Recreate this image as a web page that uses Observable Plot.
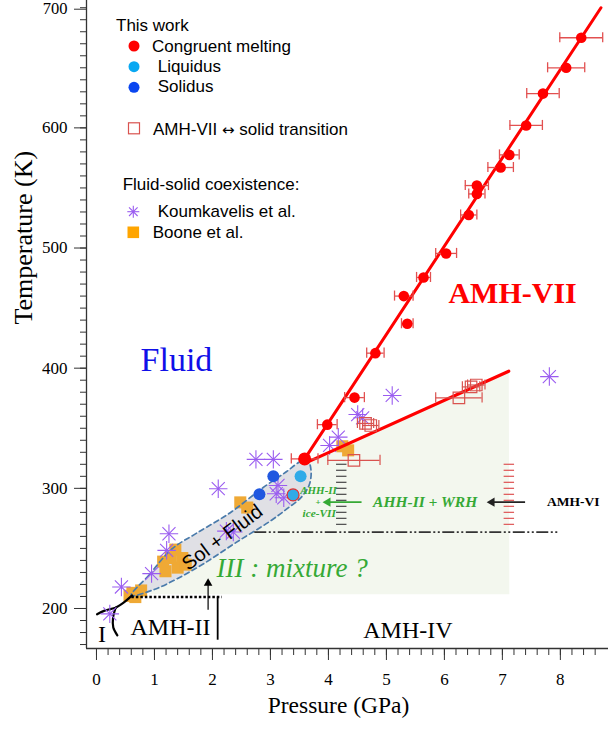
<!DOCTYPE html>
<html><head><meta charset="utf-8">
<script src="https://cdn.jsdelivr.net/npm/d3@7"></script>
<script src="https://cdn.jsdelivr.net/npm/@observablehq/plot@0.6"></script>
<style>
body{margin:0;background:#fff;}
#wrap{position:relative;width:608px;height:731px;}
</style></head><body><div id="wrap"></div>
<script>
// ---------- data (P in GPa, T in K) ----------
const congruentMelting = [
  {P:8.36,T:675,err:0.37},{P:8.10,T:650,err:0.32},{P:7.70,T:628.5,err:0.28},
  {P:7.41,T:602,err:0.28},{P:7.12,T:577.5,err:0.17},{P:6.97,T:567,err:0.22},
  {P:6.56,T:552,err:0.20},{P:6.56,T:545,err:0.14},{P:6.42,T:527.5,err:0.14},
  {P:6.03,T:495.5,err:0.18},{P:5.64,T:475.5,err:0.12},{P:5.30,T:460,err:0.16},
  {P:5.36,T:437,err:0.10},{P:4.81,T:412.5,err:0.15},{P:4.45,T:375.5,err:0.17},
  {P:3.98,T:353,err:0.17},{P:3.59,T:324.5,err:0.23}
];
const liquidus = [{P:3.52,T:310},{P:3.39,T:294.5}];
const solidus = [{P:3.05,T:310},{P:2.81,T:295}];
const redRing = [{P:3.39,T:294.5}];
const solidTransition = [
  {P:4.44,T:323.3,err:0.45},{P:4.64,T:354,err:0.14},{P:4.73,T:352.3,err:0.14},
  {P:6.25,T:375.3,err:0.40},{P:6.46,T:384.4,err:0.15},{P:6.55,T:386,err:0.15}
];
const koumkavelis = [
  {P:7.81,T:393},{P:5.10,T:377.3},{P:4.505,T:361.4},{P:4.59,T:358.7},{P:4.17,T:342.6},
  {P:4.02,T:335.7},{P:2.75,T:324.1},{P:3.05,T:324.1},{P:2.10,T:299.7},{P:3.13,T:302.4},
  {P:3.10,T:295.5},{P:3.23,T:292.1},{P:1.25,T:262.2},{P:1.21,T:248.4},{P:0.95,T:229},
  {P:0.43,T:217.9},{P:0.23,T:195.5},{P:2.24,T:264.4},{P:2.36,T:263.6}
];
const boone = [
  {P:0.62,T:213},{P:0.77,T:215},{P:0.67,T:209.5},{P:0.57,T:210.5},
  {P:1.19,T:231},{P:1.40,T:234},{P:1.28,T:242},{P:1.48,T:242},{P:1.36,T:249},{P:1.15,T:239},{P:1.54,T:236.5},
  {P:2.48,T:288.3},{P:2.60,T:284},
  {P:4.24,T:335},{P:4.34,T:331.6}
];
const meltingLine = [{P:3.59,T:324.5},{P:8.70,T:700}];
const transitionLine = [{P:3.60,T:321},{P:7.11,T:397.5}];
const solFluidOutline = [
  {P:0.60,T:210.9},{P:0.90,T:227.5},{P:1.30,T:249.5},{P:1.72,T:262.5},{P:2.30,T:279.5},
  {P:2.87,T:300.5},{P:3.28,T:314},{P:3.50,T:321.8},{P:3.64,T:323.5},{P:3.70,T:315},
  {P:3.67,T:303},{P:3.53,T:292.5},{P:3.30,T:283.5},{P:2.99,T:272.5},{P:2.41,T:255},
  {P:1.84,T:237},{P:1.38,T:224.5},{P:0.98,T:215.5}
];
const mixtureShade = [
  {P:3.64,T:321},{P:7.11,T:397.5},{P:7.12,T:211.8},{P:0.90,T:211.8},{P:0.98,T:215.5},
  {P:1.38,T:224.5},{P:1.84,T:237},{P:2.41,T:255},{P:2.99,T:272.5},{P:3.30,T:283.5},
  {P:3.53,T:292.5},{P:3.67,T:303},{P:3.70,T:315}
];
const phaseLeft = [{P:0.01,T:195.2},{P:0.13,T:198},{P:0.24,T:199.5},{P:0.33,T:200.6}];
const phaseLower = [{P:0.33,T:200.6},{P:0.285,T:192},{P:0.29,T:184.2},{P:0.36,T:177.6}];
const phaseUpper = [{P:0.33,T:200.6},{P:0.45,T:204.2},{P:0.615,T:210.9}];
const amhIIBoundary = [{P1:0.61,P2:2.17,T:209.6}];
const amhIIVertical = [{P:2.09,T1:173.6,T2:209.6}];
const upArrow = [{P:1.925,T1:198.5,T2:221}];
const dashDotLine = [{P1:2.73,P2:7.99,T:263.6}];
const ladderT = [270,275,280,285,290,295,300,305,310,315,320];
const ladderGrayP = 4.23, ladderRedP = 7.12;
const greenArrow = [{P1:4.58,P2:3.99,T:288.5}];
const blackArrow = [{P1:7.40,P2:6.82,T:288.5}];
const xMajor = [0,1,2,3,4,5,6,7,8];
const yMajor = [200,300,400,500,600];
const yTop = [700];
const labels = [
  {name:"Fluid",P:0.76,T:406.5},
  {name:"AMH-VII",P:6.07,T:462.5},
  {name:"AMH-IV",P:4.60,T:182},
  {name:"AMH-II",P:0.586,T:184.4},
  {name:"I",P:0.095,T:178.8},
  {name:"III : mixture ?",P:2.07,T:233.4},
  {name:"AHH-II + WRH",P:4.77,T:288.3},
  {name:"AMH-VI",P:7.77,T:288.8},
  {name:"AHH-II",P:3.83,T:298.3},
  {name:"+",P:3.82,T:288.8},
  {name:"ice-VII",P:3.84,T:279.2},
  {name:"Sol + Fluid",P:2.17,T:259}
];
const legendItems = [
  {kind:"head",text:"This work"},
  {kind:"red",text:"Congruent melting"},
  {kind:"liq",text:"Liquidus"},
  {kind:"sol",text:"Solidus"},
  {kind:"sq",text:"AMH-VII \u2194 solid transition"},
  {kind:"head2",text:"Fluid-solid coexistence:"},
  {kind:"ast",text:"Koumkavelis et al."},
  {kind:"or",text:"Boone et al."}
];

// ---------- chart ----------
const xMin=-0.172, xMax=8.83, yMin=166.7, yMax=706;
const xMinor = d3.range(0, 44).map(i => +(i*0.2).toFixed(1));
const yMinor = d3.range(17, 71).map(i => i*10);
const serif = "'Liberation Serif','Times New Roman',serif";
const sans = "'Liberation Sans',Arial,sans-serif";
const L = n => labels.filter(d => d.name === n);
const RED = "#ff0000", ERR = "#e25050", GREEN = "#35a935";
const capK = 4.2;

const chart = Plot.plot({
  width:608, height:731, marginLeft:86, marginRight:0, marginTop:0, marginBottom:83,
  x:{domain:[xMin,xMax]}, y:{domain:[yMin,yMax]},
  style:{fontFamily:serif, background:"#fff", overflow:"visible"},
  marks:[
    Plot.line(mixtureShade,{x:"P",y:"T",fill:"#f3f7ee",stroke:"none",curve:"linear-closed"}),
    Plot.line(solFluidOutline,{x:"P",y:"T",fill:"#e0e0e5",stroke:"none",curve:"catmull-rom-closed"}),
    Plot.dot(boone,{x:"P",y:"T",symbol:"square",r:6.8,fill:"#efa935"}),
    Plot.line(solFluidOutline,{x:"P",y:"T",stroke:"#4a7bab",strokeWidth:1.7,strokeDasharray:"5,3.5",curve:"catmull-rom-closed"}),
    // phase boundaries near origin
    Plot.line(phaseLeft,{x:"P",y:"T",stroke:"#000",strokeWidth:2.2,curve:"catmull-rom"}),
    Plot.line(phaseLower,{x:"P",y:"T",stroke:"#000",strokeWidth:2.2,curve:"catmull-rom"}),
    Plot.line(phaseUpper,{x:"P",y:"T",stroke:"#000",strokeWidth:2.2,curve:"catmull-rom"}),
    Plot.ruleY(amhIIBoundary,{y:"T",x1:"P1",x2:"P2",stroke:"#000",strokeWidth:2.6,strokeDasharray:"2.5,2"}),
    Plot.ruleX(amhIIVertical,{x:"P",y1:"T1",y2:"T2",stroke:"#000",strokeWidth:1.8}),
    Plot.ruleX(upArrow,{x:"P",y1:"T1",y2:"T2",stroke:"#000",strokeWidth:1.2}),
    Plot.dot(upArrow,{x:"P",y:"T2",symbol:"triangle",r:3.2,fill:"#000"}),
    // dash-dot and ladders
    Plot.ruleY(dashDotLine,{y:"T",x1:"P1",x2:"P2",stroke:"#333",strokeWidth:1.8,strokeDasharray:"12,2.5,2,2.5,2,2.5"}),
    Plot.ruleY(ladderT,{y:d=>d,x1:ladderGrayP-0.09,x2:ladderGrayP+0.09,stroke:"#555",strokeWidth:1.3}),
    Plot.ruleY(ladderT,{y:d=>d,x1:ladderRedP-0.09,x2:ladderRedP+0.09,stroke:"#e06060",strokeWidth:1.3}),
    Plot.ruleY(greenArrow,{y:"T",x1:"P1",x2:"P2",stroke:GREEN,strokeWidth:1.6}),
    Plot.dot(greenArrow,{x:"P2",y:"T",symbol:"triangle",rotate:-90,r:3.4,fill:GREEN}),
    Plot.ruleY(blackArrow,{y:"T",x1:"P1",x2:"P2",stroke:"#222",strokeWidth:1.6}),
    Plot.dot(blackArrow,{x:"P2",y:"T",symbol:"triangle",rotate:-90,r:3.4,fill:"#222"}),
    // asterisks
    Plot.dot(koumkavelis,{x:"P",y:"T",symbol:"plus",r:6,stroke:"#9a5cf0",strokeWidth:1.1}),
    Plot.dot(koumkavelis,{x:"P",y:"T",symbol:"times",r:6,stroke:"#9a5cf0",strokeWidth:1.1}),
    // Sol + Fluid text
    Plot.text(L("Sol + Fluid"),{x:"P",y:"T",text:"name",rotate:-37,fontSize:20,fontFamily:sans,fill:"#000"}),
    // red lines
    Plot.line(meltingLine,{x:"P",y:"T",stroke:RED,strokeWidth:3}),
    Plot.line(transitionLine,{x:"P",y:"T",stroke:RED,strokeWidth:3.2}),
    // transition squares with error bars
    Plot.ruleY(solidTransition,{y:"T",x1:d=>d.P-d.err,x2:d=>d.P+d.err,stroke:"#d9534f",strokeWidth:1.2}),
    Plot.ruleX(solidTransition,{x:d=>d.P-d.err,y1:d=>d.T-capK,y2:d=>d.T+capK,stroke:"#d9534f",strokeWidth:1.2}),
    Plot.ruleX(solidTransition,{x:d=>d.P+d.err,y1:d=>d.T-capK,y2:d=>d.T+capK,stroke:"#d9534f",strokeWidth:1.2}),
    Plot.dot(solidTransition,{x:"P",y:"T",symbol:"square",r:6.5,stroke:"#d9534f",strokeWidth:1.2,fill:"none"}),
    // congruent melting error bars + dots
    Plot.ruleY(congruentMelting,{y:"T",x1:d=>d.P-d.err,x2:d=>d.P+d.err,stroke:ERR,strokeWidth:1.3}),
    Plot.ruleX(congruentMelting,{x:d=>d.P-d.err,y1:d=>d.T-capK,y2:d=>d.T+capK,stroke:ERR,strokeWidth:1.3}),
    Plot.ruleX(congruentMelting,{x:d=>d.P+d.err,y1:d=>d.T-capK,y2:d=>d.T+capK,stroke:ERR,strokeWidth:1.3}),
    Plot.dot(liquidus,{x:"P",y:"T",r:6,fill:"#30aae8"}),
    Plot.dot(redRing,{x:"P",y:"T",r:6,stroke:"#e03030",strokeWidth:1.2,fill:"none"}),
    Plot.dot(solidus,{x:"P",y:"T",r:6,fill:"#2158e0"}),
    Plot.dot(congruentMelting.slice(0,-1),{x:"P",y:"T",r:5.3,fill:RED}),
    Plot.dot(congruentMelting.slice(-1),{x:"P",y:"T",r:6.5,fill:RED}),
    // region labels
    Plot.text(L("Fluid"),{x:"P",y:"T",text:"name",textAnchor:"start",fontSize:34,fill:"#1010e8"}),
    Plot.text(L("AMH-VII"),{x:"P",y:"T",text:"name",textAnchor:"start",fontSize:30,fontWeight:"bold",fill:RED}),
    Plot.text(L("AMH-IV"),{x:"P",y:"T",text:"name",textAnchor:"start",fontSize:24,fill:"#000"}),
    Plot.text(L("AMH-II"),{x:"P",y:"T",text:"name",textAnchor:"start",fontSize:24,fill:"#000"}),
    Plot.text(L("I"),{x:"P",y:"T",text:"name",fontSize:24,fill:"#000"}),
    Plot.text(L("III : mixture ?"),{x:"P",y:"T",text:"name",textAnchor:"start",fontSize:27,fontStyle:"italic",fill:GREEN}),
    Plot.text(L("AHH-II + WRH"),{x:"P",y:"T",text:"name",textAnchor:"start",fontSize:15.5,fontStyle:"italic",fontWeight:"bold",fill:GREEN}),
    Plot.text(L("AMH-VI"),{x:"P",y:"T",text:"name",textAnchor:"start",fontSize:13.5,fontWeight:"bold",fill:"#000"}),
    Plot.text(L("AHH-II"),{x:"P",y:"T",text:"name",fontSize:11,fontStyle:"italic",fontWeight:"bold",fill:GREEN}),
    Plot.text(L("+"),{x:"P",y:"T",text:"name",fontSize:9,fontWeight:"bold",fill:GREEN}),
    Plot.text(L("ice-VII"),{x:"P",y:"T",text:"name",fontSize:11.3,fontStyle:"italic",fontWeight:"bold",fill:GREEN}),
    // axes
    Plot.ruleX([xMin],{stroke:"#333",strokeWidth:1.3}),
    Plot.ruleY([yMin],{stroke:"#333",strokeWidth:1.3}),
    Plot.axisX({ticks:xMajor,tickSize:12,tickPadding:12,fontSize:17,label:null,stroke:"#333",tickFormat:d=>d}),
    Plot.axisX({ticks:xMinor,tickSize:7,text:null,label:null,stroke:"#333"}),
    Plot.axisY({ticks:yMajor,tickSize:12,tickPadding:7,fontSize:17,label:null,stroke:"#333",tickFormat:d=>d}),
    Plot.axisY({ticks:yTop,tickSize:12,tickPadding:7,fontSize:16.5,dy:1.5,label:null,stroke:"#333",tickFormat:d=>d}),
    Plot.axisY({ticks:yMinor,tickSize:6,text:null,label:null,stroke:"#333"}),
    Plot.text(["Pressure (GPa)"],{frameAnchor:"bottom",dx:-9,dy:64.5,fontSize:23.5,fill:"#000"}),
    Plot.text(["Temperature (K)"],{frameAnchor:"left",dx:-63,rotate:-90,fontSize:26,fill:"#000"})
  ]
});
const wrap = document.getElementById("wrap");
wrap.appendChild(chart);

// ---------- legend overlay ----------
const leg = d3.select(wrap).append("svg")
  .attr("width",608).attr("height",260)
  .style("position","absolute").style("left","0px").style("top","0px")
  .style("font-family",sans).style("font-size","17px");
const rows = {head:[116,30.7], red:[152,51.7], liq:[157.7,71.7], sol:[157.7,92.3], sq:[153,135], head2:[122.7,190], ast:[157.7,216.7], or:[152.7,238.3]};
const syms = {red:[134,46], liq:[134,66.7], sol:[134,87.3], sq:[134,128.3], ast:[133.3,211.7], or:[133.3,232.3]};
legendItems.forEach(it => {
  const [tx,ty] = rows[it.kind];
  const t = leg.append("text").attr("x",tx).attr("y",ty).attr("fill","#000");
  if (it.text.includes("\u2194")) {
    const [a,b] = it.text.split("\u2194");
    t.append("tspan").text(a);
    t.append("tspan").style("font-family","'DejaVu Sans',sans-serif").style("font-size","15px").text("\u2194");
    t.append("tspan").text(b);
  } else t.text(it.text);
  const s = syms[it.kind];
  if (!s) return;
  const [sx,sy] = s;
  if (it.kind==="red") leg.append("circle").attr("cx",sx).attr("cy",sy).attr("r",5.5).attr("fill","#ff0000");
  if (it.kind==="liq") leg.append("circle").attr("cx",sx).attr("cy",sy).attr("r",5.5).attr("fill","#0aa8f2");
  if (it.kind==="sol") leg.append("circle").attr("cx",sx).attr("cy",sy).attr("r",5.5).attr("fill","#0a46f0");
  if (it.kind==="sq") leg.append("rect").attr("x",sx-5.5).attr("y",sy-5.5).attr("width",11).attr("height",11).attr("fill","none").attr("stroke","#d9534f").attr("stroke-width",1.2);
  if (it.kind==="or") leg.append("rect").attr("x",sx-5.8).attr("y",sy-5.8).attr("width",11.6).attr("height",11.6).attr("fill","#ffa500");
  if (it.kind==="ast") {
    const g = leg.append("g").attr("stroke","#9a5cf0").attr("stroke-width",1.1);
    [[0,-6,0,6],[-6,0,6,0],[-4.3,-4.3,4.3,4.3],[-4.3,4.3,4.3,-4.3]].forEach(([a,b,c,d]) =>
      g.append("line").attr("x1",sx+a).attr("y1",sy+b).attr("x2",sx+c).attr("y2",sy+d));
  }
});
</script></body></html>
